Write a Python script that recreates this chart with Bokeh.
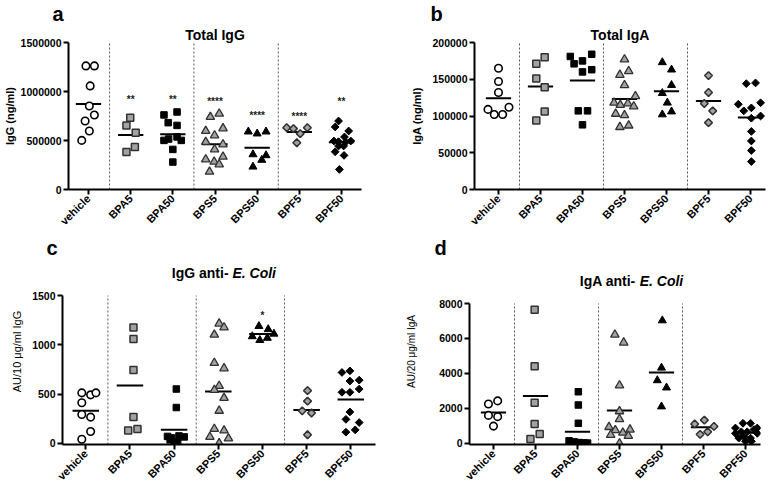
import math
import numpy as np
from bokeh.plotting import figure
from bokeh.layouts import column, row
from bokeh.models import ColumnDataSource, Label, FixedTicker, Range1d, NumeralTickFormatter, Title
from bokeh.core.properties import value
from bokeh.embed import file_html
from bokeh.resources import INLINE

# ---------------- data ----------------
CATEGORIES = ["vehicle", "BPA5", "BPA50", "BPS5", "BPS50", "BPF5", "BPF50"]

# a: Total IgG (ng/ml)
IGG_TOTAL = [
    [1261000, 1261000, 1057000, 852000, 760000, 699000, 597000, 501000],
    [733000, 654000, 580000, 434000, 382000],
    [791000, 761000, 682000, 654000, 501000, 515000, 536000, 501000, 409000, 280000],
    [774000, 740000, 624000, 597000, 552000, 485000, 460000, 409000, 334000, 307000, 283000, 256000, 181000],
    [590000, 570000, 590000, 358000, 348000, 301000, 232000],
    [631000, 621000, 631000, 570000, 477000],
    [699000, 638000, 597000, 536000, 495000, 488000, 485000, 495000, 444000, 444000, 385000, 348000, 205000],
]
IGG_TOTAL_SPREAD = [
    [-0.06, 0.14, 0.04, 0.02, 0.14, -0.08, 0.02, -0.16],
    [-0.01, -0.10, 0.12, 0.10, -0.10],
    [0.10, -0.21, -0.11, 0.10, -0.21, -0.10, 0.10, 0.20, 0.0, 0.0],
    [0.10, -0.11, 0.19, -0.22, -0.01, -0.22, 0.19, -0.01, 0.19, -0.22, -0.02, 0.10, -0.13],
    [-0.21, 0.0, 0.21, -0.10, 0.21, 0.11, -0.10],
    [-0.30, -0.14, 0.19, 0.02, -0.06],
    [-0.07, -0.15, 0.17, 0.07, -0.18, -0.07, 0.10, 0.22, -0.07, 0.05, -0.15, 0.06, -0.05],
]
IGG_TOTAL_STARS = ["", "**", "**", "****", "****", "****", "**"]
IGG_TOTAL_STAR_Y = [0, 915000, 922000, 900000, 757000, 746000, 900000]
IGG_TOTAL_TICKS = [0, 500000, 1000000, 1500000]

# b: Total IgA (ng/ml)
IGA_TOTAL = [
    [165000, 147000, 132000, 109000, 102000, 102000, 112000],
    [180000, 171000, 151000, 139000, 106000, 94000],
    [181000, 184000, 171000, 175000, 163000, 160000, 107000, 107000, 88000],
    [177000, 156000, 161000, 142000, 127000, 118000, 115000, 117000, 113000, 103000, 101000, 85000, 87000],
    [173000, 163000, 142000, 131000, 118000, 102000, 106000],
    [155000, 132000, 117000, 107000, 91000],
    [144000, 145000, 116000, 107000, 111000, 118000, 97000, 100000, 79000, 66000, 53000, 38000],
]
IGA_TOTAL_SPREAD = [
    [0.0, 0.0, 0.0, -0.25, -0.10, 0.10, 0.25],
    [0.10, -0.10, -0.10, 0.10, 0.10, -0.10],
    [-0.29, 0.22, -0.20, 0.0, 0.22, 0.0, -0.10, 0.12, 0.0],
    [0.0, -0.11, 0.10, 0.0, 0.26, -0.25, -0.10, 0.08, 0.22, -0.21, 0.0, -0.11, 0.10],
    [-0.10, 0.12, 0.12, -0.10, 0.02, -0.10, 0.12],
    [0.0, 0.0, -0.10, 0.10, 0.0],
    [-0.10, 0.12, -0.29, -0.16, 0.02, 0.24, 0.02, 0.24, 0.02, 0.02, 0.02, 0.02],
]
IGA_TOTAL_TICKS = [0, 50000, 100000, 150000, 200000]

# c: IgG anti-E. coli (AU / 10 ug/ml IgG)
IGG_ECOLI = [
    [512, 492, 512, 411, 292, 266, 120, 42],
    [1176, 1059, 745, 266, 130, 146],
    [551, 363, 70, 55, 75, 65, 15, 10, 35],
    [1215, 1176, 1102, 816, 761, 583, 541, 460, 330, 146, 130, 65, 49, 0],
    [1189, 1157, 1085, 1047, 1069, 1111],
    [535, 428, 330, 308, 87],
    [719, 735, 632, 641, 518, 518, 551, 318, 243, 211, 113, 136],
]
IGG_ECOLI_SPREAD = [
    [-0.09, 0.11, 0.23, -0.09, -0.09, 0.11, 0.11, -0.09],
    [0.08, 0.08, 0.08, 0.08, -0.04, 0.17],
    [0.05, 0.05, -0.15, -0.06, 0.11, 0.23, 0.0, 0.08, -0.09],
    [0.02, 0.13, -0.09, -0.09, 0.13, 0.02, -0.09, 0.13, 0.02, -0.09, 0.13, -0.19, 0.23, 0.02],
    [-0.08, 0.13, -0.23, -0.06, 0.11, 0.26],
    [0.02, 0.02, -0.10, 0.11, 0.02],
    [-0.20, -0.02, -0.02, 0.19, -0.20, -0.02, 0.19, -0.02, -0.11, 0.19, -0.11, 0.10],
]
IGG_ECOLI_STARS = ["", "", "", "", "*", "", ""]
IGG_ECOLI_STAR_Y = [0, 0, 0, 0, 1300, 0, 0]
IGG_ECOLI_TICKS = [0, 500, 1000, 1500]

# d: IgA anti-E. coli (AU / 20 ug/ml IgA)
IGA_ECOLI = [
    [2252, 2433, 1604, 1532, 991],
    [7640, 4415, 2325, 1117, 541, 252],
    [2955, 2198, 1153, 150, 90, 50, 30, 20, 15, 10],
    [6217, 5766, 3316, 1838, 1388, 937, 757, 613, 793, 487, 432, 0],
    [7028, 4325, 3604, 3190, 2108],
    [1333, 1117, 523, 667, 973],
    [1153, 1153, 883, 667, 667, 793, 883, 577, 396, 306, 306, 577, 126, 126],
]
IGA_ECOLI_SPREAD = [
    [-0.12, 0.10, -0.12, 0.10, 0.0],
    [-0.02, -0.02, -0.02, -0.02, 0.10, -0.12],
    [0.02, 0.02, 0.02, -0.20, -0.08, 0.04, 0.16, 0.24, -0.13, 0.12],
    [-0.11, 0.10, 0.0, 0.0, 0.0, -0.25, -0.10, 0.08, 0.25, -0.21, 0.21, 0.0],
    [0.02, 0.0, -0.10, 0.12, 0.0],
    [0.02, -0.21, -0.08, 0.10, 0.25],
    [-0.06, 0.12, -0.24, -0.10, 0.04, 0.20, 0.28, -0.24, -0.04, 0.12, -0.16, 0.28, 0.0, 0.14],
]
IGA_ECOLI_TICKS = [0, 2000, 4000, 6000, 8000]

# ---------------- styles ----------------
FONT = "Liberation Sans"
GRAY = "#a2a2a2"
MARKERS = ["circle", "square", "square", "triangle", "triangle", "square", "square"]
ANGLES = [0, 0, 0, 0, 0, math.pi / 4, math.pi / 4]
FILLS = ["white", GRAY, "black", GRAY, "black", GRAY, "black"]
OUTLINES = ["black", "#303030", "black", "#303030", "black", "#303030", "black"]
SIZES = [7.5, 7, 6.5, 8.5, 8, 5.5, 5.5]
WIDTHS = [1.6, 1.5, 1, 1.3, 1, 1.5, 1]


def make_panel(vals, spread, ticks, ymin, ylabel, ylabel_size, ylabel_style, ylabel_standoff,
               xr, frame_w, frame_h, ext_px, borders, letter, letter_offset,
               stars=None, star_y=None):
    ymax = ticks[-1]
    # the frame reaches ext_px pixels above the top tick, so that a title can sit inside it
    ytop = ymax + ext_px * (ymax - ymin) / (frame_h - ext_px)
    p = figure(frame_width=frame_w, frame_height=frame_h,
               x_range=Range1d(*xr), y_range=Range1d(ymin, ytop),
               output_backend="svg", toolbar_location=None, tools="",
               min_border_left=borders[0], min_border_right=borders[1],
               min_border_top=borders[2], min_border_bottom=borders[3])
    p.grid.visible = False
    p.outline_line_color = None
    p.background_fill_color = "white"
    p.border_fill_color = "white"

    # panel letter as the plot title
    p.title.text = letter
    p.title.align = "left"
    p.title.offset = letter_offset
    p.title.text_font = FONT
    p.title.text_font_size = "20px"
    p.title.text_font_style = "bold"
    p.title.text_color = "black"
    p.title.standoff = 0

    for ax in (p.xaxis[0], p.yaxis[0]):
        ax.axis_line_width = 2
        ax.axis_line_color = "black"
        ax.major_tick_line_width = 2
        ax.major_tick_line_color = "black"
        ax.major_tick_out = 5
        ax.major_tick_in = 0
        ax.minor_tick_line_color = None
        ax.major_label_text_font = FONT
        ax.major_label_text_font_style = "bold"
        ax.major_label_text_color = "black"
        ax.major_label_standoff = 2

    xa = p.xaxis[0]
    xa.ticker = FixedTicker(ticks=list(range(len(CATEGORIES))))
    xa.major_label_overrides = {i: c for i, c in enumerate(CATEGORIES)}
    xa.major_label_orientation = math.pi / 4
    xa.major_label_text_font_size = "11px"

    ya = p.yaxis[0]
    ya.ticker = FixedTicker(ticks=ticks)
    ya.formatter = NumeralTickFormatter(format="0")
    ya.bounds = (ymin, ymax)
    ya.major_label_text_font_size = "10.5px"
    ya.axis_label = ylabel
    ya.axis_label_text_font = FONT
    ya.axis_label_text_font_size = ylabel_size
    ya.axis_label_text_font_style = ylabel_style
    ya.axis_label_text_color = "black"
    ya.axis_label_standoff = ylabel_standoff

    # dotted separators between compound families (vehicle | BPA | BPS | BPF)
    seps = [i - 0.5 for i in range(1, len(CATEGORIES)) if CATEGORIES[i][:3] != CATEGORIES[i - 1][:3]]
    p.segment(x0=seps, x1=seps, y0=[ymin] * len(seps), y1=[ymax] * len(seps),
              line_color="#555555", line_width=1, line_dash="2 2")

    # mean lines
    means = [float(np.mean(v)) for v in vals]
    idx = np.arange(len(CATEGORIES))
    p.segment(x0=idx - 0.3, x1=idx + 0.3, y0=means, y1=means, line_color="black", line_width=2)

    # points
    for i, (v, s) in enumerate(zip(vals, spread)):
        src = ColumnDataSource(dict(x=[i + d for d in s], y=v))
        p.scatter(x="x", y="y", source=src, marker=MARKERS[i], size=SIZES[i], angle=ANGLES[i],
                  fill_color=FILLS[i], line_color=OUTLINES[i], line_width=WIDTHS[i])

    if stars is not None:
        sx = [i for i, t in enumerate(stars) if t]
        sy = [star_y[i] for i in sx]
        st = [stars[i] for i in sx]
        p.text(x=sx, y=sy, text=st, text_font=value(FONT), text_font_size="10px",
               text_font_style="bold", text_color="#222222", text_align="center",
               text_baseline="middle")
    return p, ymax, (ymax - ymin) / (frame_h - ext_px)


def title_above(p, title):
    p.add_layout(Title(text=title, align="center", text_font=FONT, text_font_size="14px",
                       text_font_style="bold", text_color="black", standoff=0), "above")


def title_inside(p, parts, ymax, per_px, px_above):
    # parts: (text, style, x, align); baseline px_above pixels above the top tick
    for (txt, style, x, align) in parts:
        p.add_layout(Label(x=x, y=ymax + px_above * per_px, text=txt, text_font=FONT,
                           text_font_size="14px", text_font_style=style, text_align=align,
                           text_baseline="alphabetic", text_color="black"))


pa, _, _ = make_panel(IGG_TOTAL, IGG_TOTAL_SPREAD, IGG_TOTAL_TICKS, 0, "IgG (ng/ml)", "11px", "bold", 2,
                      (-0.474, 6.474), 293, 147, 0, (63, 29, 0, 44), "a", -16,
                      stars=IGG_TOTAL_STARS, star_y=IGG_TOTAL_STAR_Y)
title_above(pa, "Total IgG")

pb, _, _ = make_panel(IGA_TOTAL, IGA_TOTAL_SPREAD, IGA_TOTAL_TICKS, 0, "IgA (ng/ml)", "11px", "bold", 6,
                      (-0.571, 6.357), 291, 147, 0, (84, 2, 0, 44), "b", -44)
title_above(pb, "Total IgA")

pc, c_top, c_px = make_panel(IGG_ECOLI, IGG_ECOLI_SPREAD, IGG_ECOLI_TICKS, -12, "AU/10 \u03bcg/ml IgG",
                             "11px", "normal", 6, (-0.527, 6.559), 313, 186, 37, (62, 10, 0, 43), "c", -16,
                             stars=IGG_ECOLI_STARS, star_y=IGG_ECOLI_STAR_Y)
title_inside(pc, [("IgG anti- ", "bold", 3.32, "right"), ("E. Coli", "bold italic", 3.32, "left")],
             c_top, c_px, 23)

pd, d_top, d_px = make_panel(IGA_ECOLI, IGA_ECOLI_SPREAD, IGA_ECOLI_TICKS, -60, "AU/20 \u03bcg/ml IgA",
                             "10px", "normal", 19, (-0.571, 6.357), 291, 186, 45, (84, 2, 0, 43), "d", -35)
title_inside(pd, [("IgA anti- ", "bold", 3.48, "right"), ("E. Coli", "bold italic", 3.48, "left")],
             d_top, d_px, 23)

layout = column(row(pa, pb), row(pc, pd))
open("out.html", "w").write(file_html(layout, INLINE))
